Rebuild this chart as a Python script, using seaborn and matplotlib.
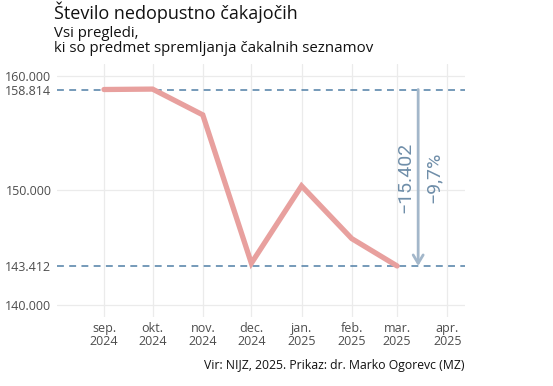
import matplotlib
matplotlib.use("Agg")
import matplotlib.pyplot as plt
import pandas as pd
import seaborn as sns

# data
months = ["2024-09-01", "2024-10-01", "2024-11-01", "2024-12-01",
          "2025-01-01", "2025-02-01", "2025-03-01"]
waiting = [158814, 158850, 156600, 143650, 150400, 145800, 143412]

tick_months = ["2024-09-01", "2024-10-01", "2024-11-01", "2024-12-01",
               "2025-01-01", "2025-02-01", "2025-03-01", "2025-04-01"]
tick_labels = ["sep.\n2024", "okt.\n2024", "nov.\n2024", "dec.\n2024",
               "jan.\n2025", "feb.\n2025", "mar.\n2025", "apr.\n2025"]
y_ticks = [140000, 143412, 150000, 158814, 160000]

start_val = waiting[0]
end_val = waiting[-1]
diff = end_val - start_val
pct = diff / start_val * 100


def fmt_num(v):
    return f"{v:,}".replace(",", ".")


df = pd.DataFrame({"mesec": pd.to_datetime(months), "stevilo": waiting})

sns.set_theme(style="whitegrid")
plt.rcParams["font.family"] = ["Open Sans", "DejaVu Sans"]

fig = plt.figure(figsize=(5.53, 3.86), dpi=100)
ax = fig.add_axes([0.1031, 0.180, 0.738, 0.653])

line_col = "#e8a09e"
dash_col = "#4f7ea6"
arrow_col = "#a3b7ca"
text_col = "#6f8ea9"

for v in [start_val, end_val]:
    ax.axhline(v, color=dash_col, lw=1.1, ls=(0, (4.5, 3.5)), zorder=2)

sns.lineplot(data=df, x="mesec", y="stevilo", color=line_col, lw=3.8,
             ax=ax, zorder=3, solid_joinstyle="miter")

arrow_x = pd.Timestamp("2025-03-14")
ax.annotate("", xy=(arrow_x, end_val), xytext=(arrow_x, start_val),
            arrowprops=dict(arrowstyle="->,head_length=0.5,head_width=0.3",
                            color=arrow_col, lw=2, shrinkA=0, shrinkB=0),
            zorder=4)
mid = (start_val + end_val) / 2
ax.annotate(f"\u2212{fmt_num(-diff)}", xy=(arrow_x, mid), xytext=(-13, 0),
            textcoords="offset pixels", rotation=90, ha="center", va="center",
            fontsize=14, color=text_col, family=["Roboto", "DejaVu Sans"])
ax.annotate(f"\u2212{abs(pct):.1f}%".replace(".", ","), xy=(arrow_x, mid),
            xytext=(16, 0), textcoords="offset pixels", rotation=90,
            ha="center", va="center", fontsize=14, color=text_col,
            family=["Roboto", "DejaVu Sans"])

ax.set_xlim(pd.Timestamp("2024-08-03"), pd.Timestamp("2025-04-12"))
ax.set_ylim(139000, 161000)
ax.set_xticks(pd.to_datetime(tick_months))
ax.set_xticklabels(tick_labels)
ax.set_yticks(y_ticks)
ax.set_yticklabels([fmt_num(v) for v in y_ticks])
ax.xaxis.set_minor_locator(matplotlib.ticker.NullLocator())
ax.set_xlabel("")
ax.set_ylabel("")

ax.grid(True, color="#ebebeb", lw=0.9)
for gl, v in zip(ax.get_ygridlines(), y_ticks):
    if v in (start_val, end_val):
        gl.set_visible(False)
for s in ax.spines.values():
    s.set_visible(False)
ax.tick_params(axis="both", length=0, labelsize=9, labelcolor="#4d4d4d",
               pad=4)
for lab in ax.get_xticklabels():
    lab.set_linespacing(0.95)

fig.text(0.0985, 1 - 12 / 386, "Število nedopustno čakajočih", fontsize=13,
         va="center", ha="left", color="#111111")
fig.text(0.0985, 1 - 41 / 386,
         "Vsi pregledi,\nki so predmet spremljanja čakalnih seznamov",
         fontsize=10.8, va="center", ha="left", color="#111111",
         linespacing=1.0)
fig.text(465 / 553, 1 - 366 / 386,
         "Vir: NIJZ, 2025. Prikaz: dr. Marko Ogorevc (MZ)", fontsize=8.8,
         ha="right", va="center", color="#111111")

fig.savefig("out.png", dpi=100)
